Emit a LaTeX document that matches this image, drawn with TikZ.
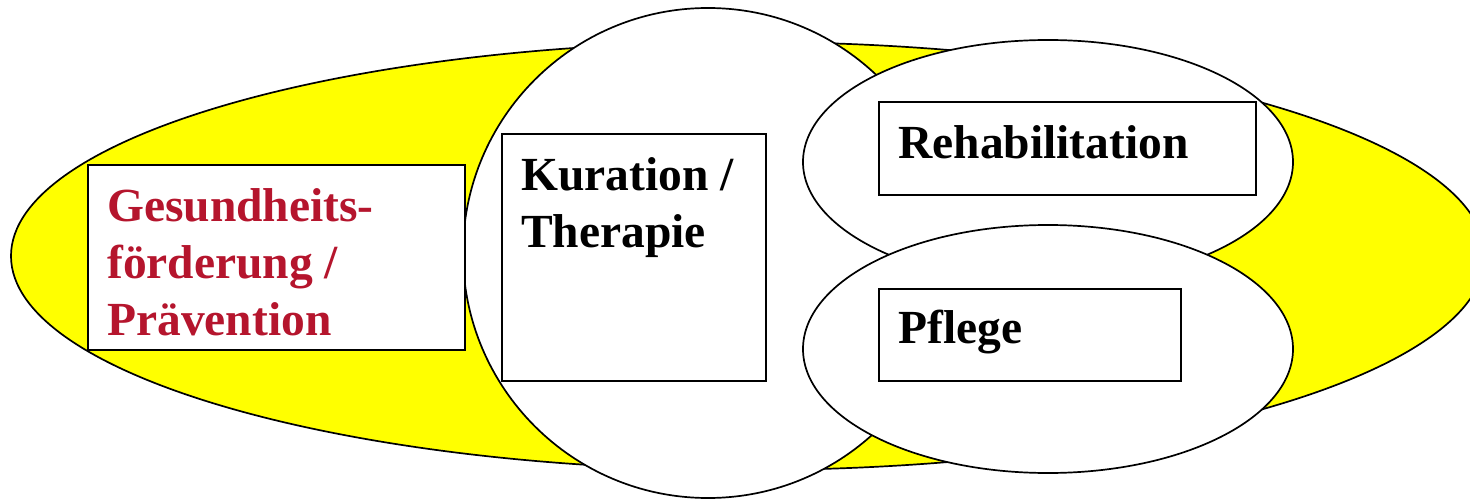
\documentclass[tikz,border=0pt]{standalone}
\usepackage{fontspec}
\setmainfont{Liberation Serif}
\usetikzlibrary{shapes.geometric}
\definecolor{praevred}{RGB}{181,21,45}
\definecolor{fieldyellow}{RGB}{255,255,0}
\tikzset{
  bubble/.style={ellipse, draw=black, fill=white, line width=1.7pt, inner sep=0pt},
  framebox/.style={rectangle, draw=black, fill=white, line width=1.7pt, inner sep=0pt, anchor=north west},
  lbl/.style={anchor=base west, inner sep=0pt, align=left, font=\fontsize{47.5}{57}\selectfont\bfseries}
}
\begin{document}
\begin{tikzpicture}[x=1pt,y=-1pt]
\useasboundingbox (0,0) rectangle (1470,500);
% big yellow field
\node[ellipse, draw=black, fill=fieldyellow, line width=1.7pt, inner sep=0pt,
      minimum width=1474pt, minimum height=428pt] (field) at (748,256) {};
% Kuration circle
\node[bubble, minimum width=490pt, minimum height=490pt] (cur) at (708,253) {};
% boxes on left and middle
\node[framebox, minimum width=377pt, minimum height=185pt] (praevbox) at (87,164) {};
\node[framebox, minimum width=264pt, minimum height=247pt] (curbox) at (501,133) {};
% Rehabilitation ellipse
\node[bubble, minimum width=490pt, minimum height=244pt] (reha) at (1048,162) {};
\node[framebox, minimum width=377pt, minimum height=93pt] (rehabox) at (878,101) {};
% Pflege ellipse
\node[bubble, minimum width=490pt, minimum height=248pt] (pfl) at (1048,349) {};
\node[framebox, minimum width=302pt, minimum height=92pt] (pflbox) at (878,288) {};
% texts
\node[lbl, text=praevred] (praevtxt) at (107,335) {Gesundheits-\\förderung /\\Prävention};
\node[lbl] (curtxt) at (521,247) {Kuration /\\Therapie};
\node[lbl] (rehatxt) at (898,158) {Rehabilitation};
\node[lbl] (pfltxt) at (898,343) {Pflege};
\end{tikzpicture}
\end{document}
